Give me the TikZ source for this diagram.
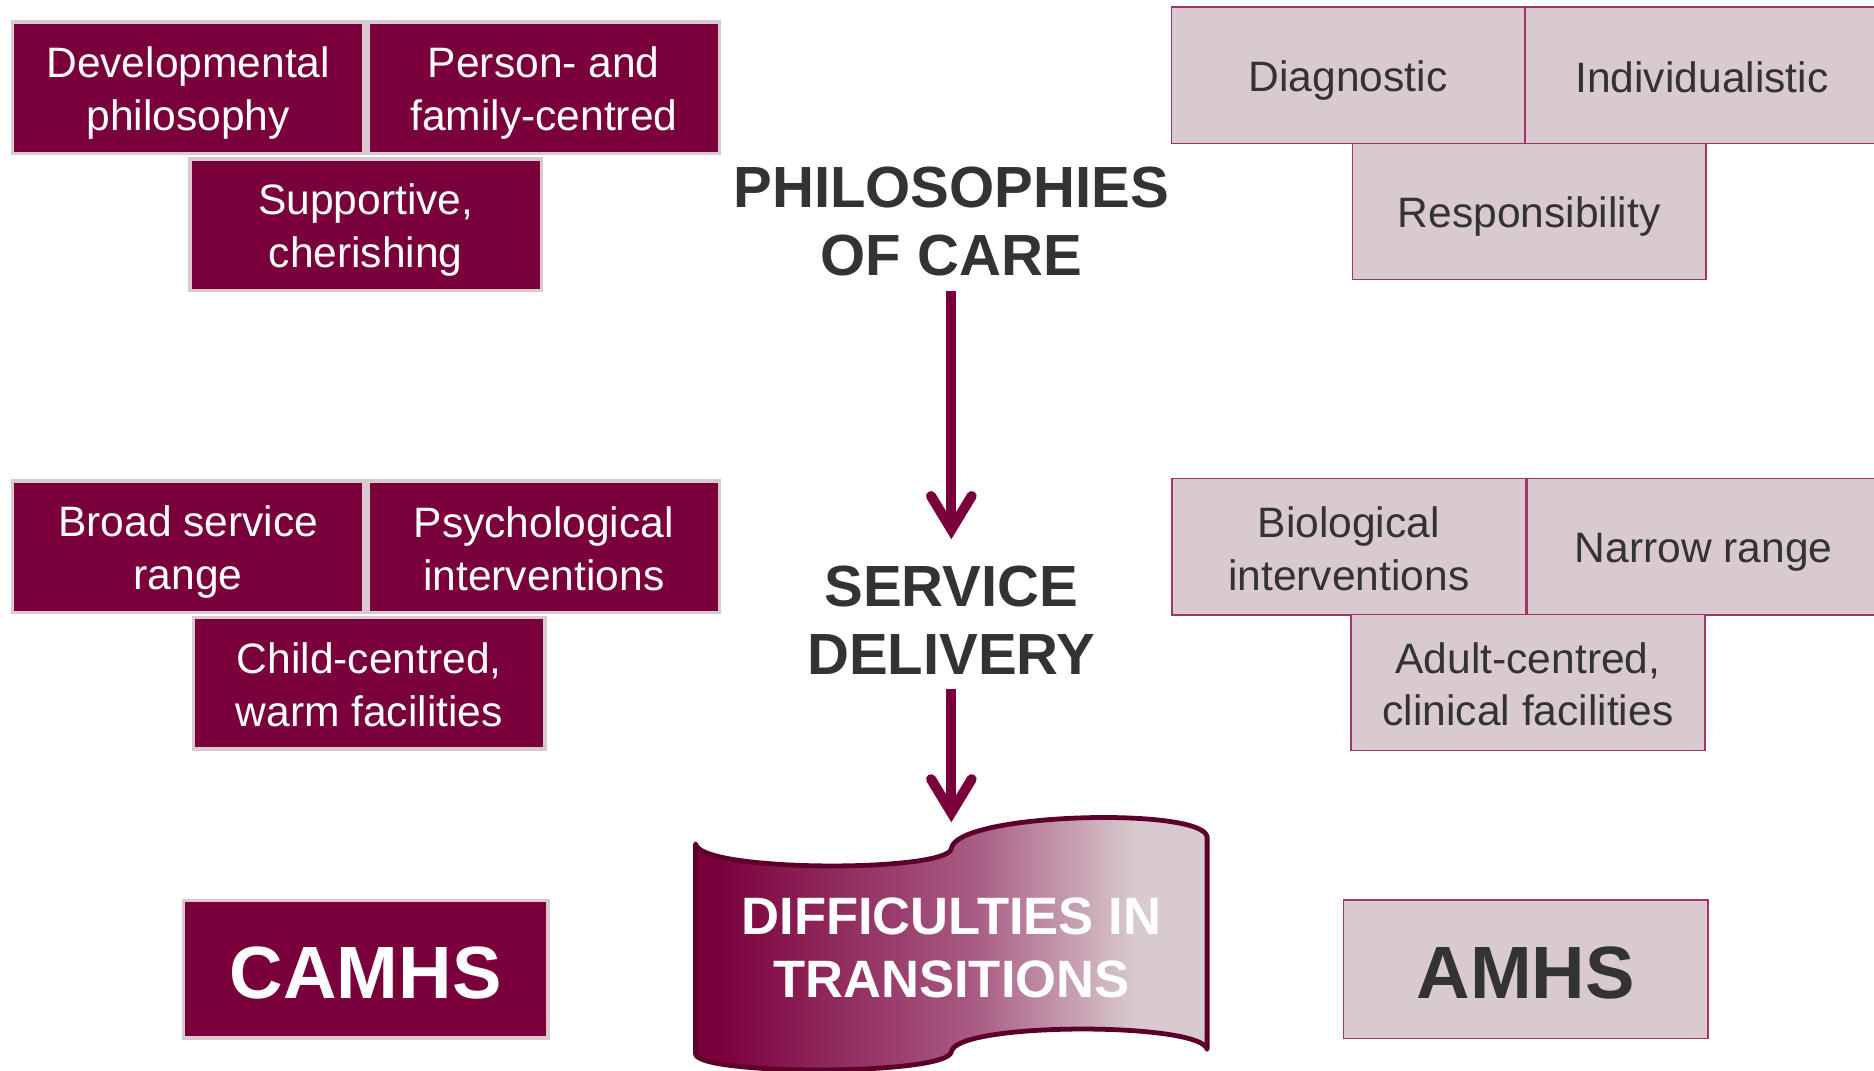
\documentclass[tikz,border=0pt]{standalone}
\usepackage{fontspec}
\setmainfont{Liberation Sans}
\usetikzlibrary{arrows.meta}
\definecolor{maroon}{RGB}{122,0,60}
\definecolor{rim}{RGB}{216,202,206}
\definecolor{lightfill}{RGB}{216,202,206}
\definecolor{midpink}{RGB}{168,90,130}
\definecolor{lightedge}{RGB}{165,50,105}
\definecolor{txtgray}{RGB}{51,51,51}
\definecolor{bannerline}{RGB}{92,0,41}
\pgfdeclarehorizontalshading{bannershade}{100bp}{color(0bp)=(maroon); color(27bp)=(maroon); color(52bp)=(midpink); color(68bp)=(lightfill); color(100bp)=(lightfill)}
\newcommand\topstrut{\rule{0pt}{0.96em}}
\newcommand\botstrut{\rule[-0.16em]{0pt}{0pt}}
\tikzset{
  boxtext/.style={font=\fontsize{17.8}{22}\selectfont, align=center, inner sep=0pt},
  darkbox/.style={boxtext, fill=maroon, draw=rim, line width=1.5pt, text=white, minimum width=147pt, minimum height=55pt},
  lightbox/.style={boxtext, fill=lightfill, draw=lightedge, line width=0.6pt, text=txtgray, minimum width=148pt, minimum height=57pt},
  bigdark/.style={darkbox, font=\bfseries\fontsize{31}{36}\selectfont, minimum width=152.5pt, minimum height=57.5pt},
  biglight/.style={lightbox, font=\bfseries\fontsize{31}{36}\selectfont, minimum width=152.5pt, minimum height=58pt},
  titletext/.style={font=\bfseries\fontsize{24.3}{28.5}\selectfont, text=txtgray, align=center, inner sep=0pt},
  flow/.style={draw=maroon, line width=4.2pt, -{Straight Barb[length=14pt,width=17pt,line cap=round]}},
  bannerbox/.style={shading=bannershade, draw=bannerline, line width=2pt, line join=round},
  bannertext/.style={font=\bfseries\fontsize{22}{26.5}\selectfont, text=white, align=center, inner sep=0pt},
}
\begin{document}
\begin{tikzpicture}[x=0.5pt, y=-0.5pt]
\useasboundingbox (0,0) rectangle (1568,896);
% left (CAMHS) side
\node[darkbox] (dev) at (157.5,73.5) {\topstrut Developmental\\philosophy\botstrut};
\node[darkbox] (pfc) at (455,73.5) {\topstrut Person- and\\family-centred\botstrut};
\node[darkbox] (sup) at (306,188) {\topstrut Supportive,\\cherishing\botstrut};
\node[darkbox] (broad) at (157.5,457.5) {\topstrut Broad service\\range\botstrut};
\node[darkbox] (psy) at (455,457.5) {\topstrut Psychological\\interventions\botstrut};
\node[darkbox] (child) at (309,571.5) {\topstrut Child-centred,\\warm facilities\botstrut};
\node[bigdark] (camhs) at (306,811) {\topstrut CAMHS\botstrut};
% right (AMHS) side
\node[lightbox] (diag) at (1128,63) {\topstrut Diagnostic\botstrut};
\node[lightbox] (indiv) at (1424,63) {\topstrut Individualistic\botstrut};
\node[lightbox] (resp) at (1279.5,177) {\topstrut Responsibility\botstrut};
\node[lightbox] (bio) at (1128.5,457.5) {\topstrut Biological\\interventions\botstrut};
\node[lightbox] (narrow) at (1425.5,457.5) {\topstrut Narrow range\botstrut};
\node[lightbox] (adult) at (1278.5,571) {\topstrut Adult-centred,\\clinical facilities\botstrut};
\node[biglight] (amhs) at (1276.5,811) {\topstrut AMHS\botstrut};
% centre
\node[titletext] (phil) at (796,185.5) {PHILOSOPHIES\\OF CARE};
\node[titletext] (serv) at (796,519) {SERVICE\\DELIVERY};
\path[bannerbox] (582,706) .. controls (585,730) and (793,730) .. (796,710)
  .. controls (800,680) and (1005,675) .. (1010,700)
  -- (1010,878)
  .. controls (1005,855) and (800,855) .. (796,880)
  .. controls (793,900) and (585,900) .. (582,882) -- cycle;
\node[bannertext] (trans) at (796,793) {DIFFICULTIES IN\\TRANSITIONS};
\coordinate (bannertop) at (796,688);
\draw[flow, shorten <=6pt, shorten >=11pt] (phil.south) -- (serv.north);
\draw[flow, shorten <=6pt] (serv.south) -- (bannertop);
\end{tikzpicture}
\end{document}
